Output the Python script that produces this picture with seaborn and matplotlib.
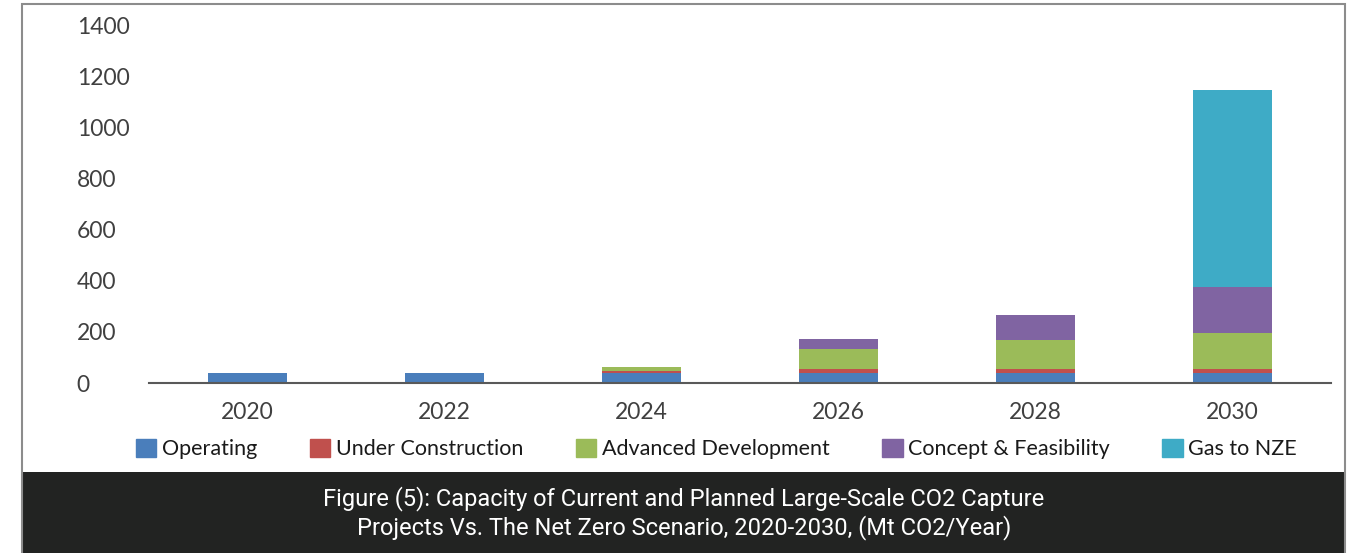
import matplotlib
matplotlib.use("Agg")
import matplotlib.pyplot as plt
import matplotlib.patches as mpatches
import numpy as np
import pandas as pd
import seaborn as sns

years = ["2020", "2022", "2024", "2026", "2028", "2030"]
operating = [40, 40, 40, 40, 40, 40]
under_construction = [0, 0, 8, 16, 16, 16]
advanced_development = [0, 0, 16, 77, 114, 140]
concept_feasibility = [0, 0, 0, 41, 94, 178]
gas_to_nze = [0, 0, 0, 0, 0, 771]

series = ["Operating", "Under Construction", "Advanced Development",
          "Concept & Feasibility", "Gas to NZE"]
colors = ["#4A7EBB", "#C0504D", "#9BBB59", "#8064A2", "#3EABC6"]

df = pd.DataFrame({
    "year": years,
    "Operating": operating,
    "Under Construction": under_construction,
    "Advanced Development": advanced_development,
    "Concept & Feasibility": concept_feasibility,
    "Gas to NZE": gas_to_nze,
})
# cumulative totals so the stacked bars can be drawn from the top layer down
cum = df[series].cumsum(axis=1)

sns.set_style("white")
plt.rcParams['font.family'] = ['Lato', 'DejaVu Sans']

fig = plt.figure(figsize=(13.61, 5.53), dpi=100)
ax = fig.add_axes([149 / 1361, 170 / 553, 1182 / 1361, 358 / 553])

for name, col in reversed(list(zip(series, colors))):
    sns.barplot(x=df["year"], y=cum[name], color=col, width=0.406,
                saturation=1, ax=ax, linewidth=0)

ax.set_xlim(-0.5, 5.5)
ax.set_ylim(0, 1400)
ax.set_yticks(range(0, 1401, 200))
ax.set_xlabel("")
ax.set_ylabel("")
sns.despine(ax=ax, left=True, top=True, right=True)
ax.spines["bottom"].set_color("#595959")
ax.spines["bottom"].set_linewidth(1.5)
ax.tick_params(axis="both", length=0, labelsize=16.5, labelcolor="#404040")
ax.tick_params(axis="y", pad=52)
ax.tick_params(axis="x", pad=14)
for lab in ax.get_yticklabels():
    lab.set_horizontalalignment("left")

handles = [mpatches.Patch(color=c, label=s) for s, c in zip(series, colors)]
leg = fig.legend(handles=handles, loc="center left", bbox_to_anchor=(136 / 1361, 104 / 553),
                 ncol=5, frameon=False, fontsize=15.5, handlelength=0.95, handleheight=0.95,
                 handletextpad=0.25, columnspacing=2.45, borderaxespad=0, borderpad=0)
for t in leg.get_texts():
    t.set_color("#1a1a1a")

# dark caption band and outer frame
fig.patches.append(mpatches.Rectangle((22 / 1361, 0), 1323 / 1361, 81 / 553,
                                      transform=fig.transFigure, facecolor="#222322",
                                      edgecolor="none", zorder=0))
fig.patches.append(mpatches.Rectangle((22 / 1361, -0.01), 1323 / 1361, 549 / 553 + 0.01,
                                      transform=fig.transFigure, facecolor="none",
                                      edgecolor="#8c8c8c", linewidth=1.5, zorder=1))

fig.text(684 / 1361, 40 / 553,
         "Figure (5): Capacity of Current and Planned Large-Scale CO2 Capture\n"
         "Projects Vs. The Net Zero Scenario, 2020-2030, (Mt CO2/Year)",
         ha="center", va="center", color="white", fontsize=17, linespacing=1.25,
         family=["Roboto", "DejaVu Sans"])

fig.savefig("out.png", dpi=100)
